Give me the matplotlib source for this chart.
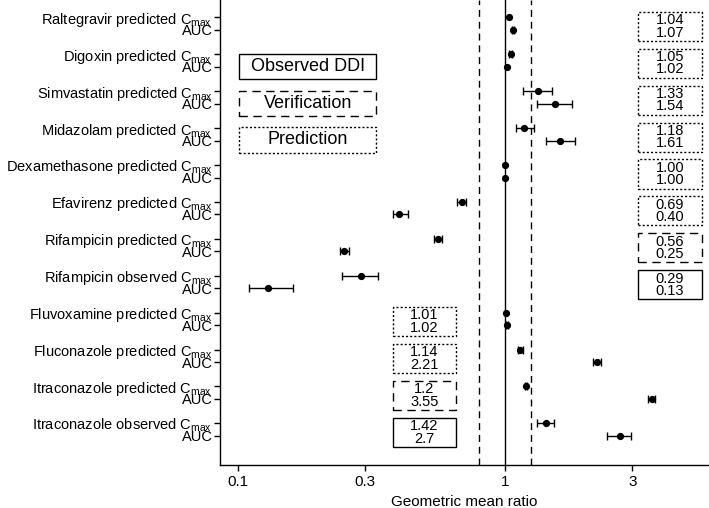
import numpy as np
import matplotlib
matplotlib.use('Agg')
import matplotlib.pyplot as plt
import matplotlib.ticker as ticker
import matplotlib.transforms as transforms
from matplotlib.patches import Rectangle

plt.rcParams['font.family'] = ['Liberation Sans', 'DejaVu Sans']
plt.rcParams['mathtext.fontset'] = 'custom'
plt.rcParams['mathtext.rm'] = 'Liberation Sans'
plt.rcParams['mathtext.it'] = 'Liberation Sans:italic'

# one entry per study (Cmax row + AUC row)
drugs = ['Raltegravir predicted', 'Digoxin predicted', 'Simvastatin predicted',
         'Midazolam predicted', 'Dexamethasone predicted', 'Efavirenz predicted',
         'Rifampicin predicted', 'Rifampicin observed', 'Fluvoxamine predicted',
         'Fluconazole predicted', 'Itraconazole predicted', 'Itraconazole observed']
study_type = ['Prediction', 'Prediction', 'Prediction', 'Prediction', 'Prediction',
              'Prediction', 'Verification', 'Observed DDI', 'Prediction',
              'Prediction', 'Verification', 'Observed DDI']
box_side = ['right'] * 8 + ['left'] * 4

cmax = [1.04, 1.05, 1.33, 1.18, 1.00, 0.69, 0.56, 0.29, 1.01, 1.14, 1.20, 1.42]
cmax_lo = [1.04, 1.04, 1.17, 1.10, 1.00, 0.663, 0.541, 0.245, 1.01, 1.12, 1.19, 1.32]
cmax_hi = [1.04, 1.06, 1.50, 1.28, 1.00, 0.714, 0.582, 0.334, 1.01, 1.17, 1.21, 1.53]

auc = [1.07, 1.02, 1.54, 1.61, 1.00, 0.40, 0.25, 0.13, 1.02, 2.21, 3.55, 2.70]
auc_lo = [1.06, 1.02, 1.32, 1.42, 1.00, 0.382, 0.241, 0.110, 1.01, 2.14, 3.43, 2.42]
auc_hi = [1.08, 1.02, 1.79, 1.83, 1.00, 0.433, 0.260, 0.161, 1.03, 2.28, 3.66, 2.96]

cmax_txt = ['1.04', '1.05', '1.33', '1.18', '1.00', '0.69', '0.56', '0.29', '1.01', '1.14', '1.2', '1.42']
auc_txt = ['1.07', '1.02', '1.54', '1.61', '1.00', '0.40', '0.25', '0.13', '1.02', '2.21', '3.55', '2.7']

xticks = [0.1, 0.3, 1, 3]
xtick_labels = ['0.1', '0.3', '1', '3']

# line style for each kind of study box
box_ls = {'Observed DDI': '-', 'Verification': (0, (6, 4)), 'Prediction': (0, (1.5, 1.5))}

fig = plt.figure(figsize=(7.09, 5.08), dpi=100)
ax = fig.add_axes([0.3103, 0.0846, 0.6897, 0.9154])

n = len(drugs)
inner = 0.34
y_cmax = -np.arange(n, dtype=float)
y_auc = y_cmax - inner

# reference lines
ax.axvline(1.0, color='black', lw=1.0, zorder=1)
ax.axvline(0.8, color='black', lw=1.0, ls=(0, (5, 3.5)), zorder=1)
ax.axvline(1.25, color='black', lw=1.0, ls=(0, (5, 3.5)), zorder=1)

# points and confidence intervals
for vals, lo, hi, ys in [(cmax, cmax_lo, cmax_hi, y_cmax), (auc, auc_lo, auc_hi, y_auc)]:
    vals = np.array(vals)
    err = np.vstack([vals - np.array(lo), np.array(hi) - vals])
    has_ci = err.sum(axis=0) > 0
    ax.errorbar(vals[has_ci], ys[has_ci], xerr=err[:, has_ci], fmt='none',
                ecolor='black', elinewidth=1.0, capsize=3, capthick=1.0, zorder=2)
    ax.plot(vals, ys, 'o', color='black', markersize=4.2, zorder=3)

ax.set_xscale('log')
ax.set_xlim(0.0857, 5.81)
ax.set_ylim(-11.34 - 0.79, 0.47)

# value boxes next to each study
trans = transforms.blended_transform_factory(ax.transAxes, ax.transData)
for i in range(n):
    if box_side[i] == 'right':
        x0, x1 = 0.855, 0.986
    else:
        x0, x1 = 0.353, 0.483
    top = y_cmax[i] + 0.15
    bot = y_auc[i] - 0.30
    ax.add_patch(Rectangle((x0, bot), x1 - x0, top - bot, transform=trans, fill=False,
                           ec='black', lw=1.0, ls=box_ls[study_type[i]], zorder=4))
    ax.text((x0 + x1) / 2, (top + bot) / 2, cmax_txt[i] + '\n' + auc_txt[i],
            transform=trans, ha='center', va='center', fontsize=10.5, linespacing=0.85)

# legend boxes
legend_pos = [('Observed DDI', 0.884, 0.830), ('Verification', 0.805, 0.751),
              ('Prediction', 0.727, 0.671)]
for name, ytop, ybot in legend_pos:
    ax.add_patch(Rectangle((0.039, ybot), 0.281, ytop - ybot, transform=ax.transAxes,
                           fill=False, ec='black', lw=1.0, ls=box_ls[name]))
    ax.text(0.1795, (ytop + ybot) / 2, name, transform=ax.transAxes,
            ha='center', va='center', fontsize=13)

# y axis labels
yticks = []
ylabels = []
for i in range(n):
    yticks += [y_cmax[i], y_auc[i]]
    ylabels += [drugs[i] + r' C$_{\mathrm{max}}$', 'AUC']
ax.set_yticks(yticks)
ax.set_yticklabels(ylabels, fontsize=10.5)

ax.xaxis.set_major_locator(ticker.FixedLocator(xticks))
ax.xaxis.set_major_formatter(ticker.FixedFormatter(xtick_labels))
ax.xaxis.set_minor_locator(ticker.NullLocator())
ax.tick_params(axis='x', labelsize=11, length=4, width=1)
ax.tick_params(axis='y', length=4, width=1, pad=1.5)
ax.set_xlabel('Geometric mean ratio', fontsize=11)

ax.spines['top'].set_visible(False)
ax.spines['right'].set_visible(False)
ax.spines['left'].set_linewidth(1.0)
ax.spines['bottom'].set_linewidth(1.0)

fig.savefig('out.png', dpi=100)
